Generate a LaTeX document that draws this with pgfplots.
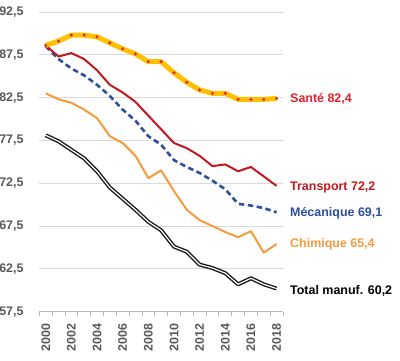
\documentclass[border=0pt]{standalone}
\usepackage{fontspec}
\setmainfont{Liberation Sans}
\usepackage{pgfplots}
\usepackage{pgfplotstable}
\pgfplotsset{compat=1.18}
\definecolor{sanY}{HTML}{FFC000}
\definecolor{sanR}{HTML}{E5202A}
\definecolor{traR}{HTML}{C0181E}
\definecolor{mecB}{HTML}{2D4FA1}
\definecolor{chiO}{HTML}{F79A3B}
\definecolor{tickG}{HTML}{595959}
\definecolor{gridG}{HTML}{D9D9D9}
\pgfplotstableread{
year sante transport meca chimie total
2000 88.6 88.6 88.5 83.0 78.1
2001 89.1 87.3 87.0 82.3 77.4
2002 89.8 87.7 85.9 81.9 76.4
2003 89.8 87.0 85.1 81.1 75.4
2004 89.6 85.7 84.0 80.1 73.9
2005 88.9 84.0 82.7 78.0 72.0
2006 88.2 83.1 81.1 77.2 70.7
2007 87.6 82.0 79.8 75.7 69.4
2008 86.7 80.4 78.0 73.1 68.0
2009 86.7 78.8 77.0 74.0 67.0
2010 85.4 77.2 75.2 71.6 65.1
2011 84.3 76.6 74.4 69.4 64.5
2012 83.4 75.7 73.7 68.2 63.0
2013 83.0 74.5 72.8 67.5 62.6
2014 83.0 74.7 71.8 66.8 62.0
2015 82.3 73.9 70.1 66.2 60.7
2016 82.3 74.4 69.9 66.9 61.4
2017 82.3 73.3 69.6 64.4 60.7
2018 82.4 72.2 69.1 65.4 60.2
}\data
\begin{document}
\begin{tikzpicture}
\begin{axis}[
  name=ax,
  scale only axis,
  width=243.7bp, height=299.7bp,
  xmin=1999.5, xmax=2018.5,
  ymin=57.5, ymax=92.5,
  clip=false,
  axis x line*=bottom,
  axis y line*=left,
  x axis line style={draw=gray!55, line width=0.8bp, -},
  y axis line style={draw=none, -},
  /pgf/number format/assume math mode=true,
  xtick={2000,2002,...,2018},
  xticklabel style={rotate=90, anchor=east, font=\fontsize{12.5}{12.5}\selectfont\bfseries, color=tickG, /pgf/number format/1000 sep={}},
  major x tick style={draw=none},
  minor xtick={1999.5,2000.5,...,2018.5},
  minor x tick style={draw=gray!55, line width=0.8bp},
  minor tick length=4bp,
  tick align=outside,
  ytick={57.5,62.5,...,92.5},
  yticklabel style={font=\fontsize{12.5}{12.5}\selectfont\bfseries, color=tickG, /pgf/number format/.cd, fixed, fixed zerofill, precision=1, use comma},
  ymajorgrids,
  grid style={draw=gridG, line width=0.8bp},
  major y tick style={draw=none},
  xticklabel shift=4bp,
  yticklabel shift=8bp,
]
\addplot[black!90, line width=4bp, line join=round] table[x=year,y=total]{\data};
\addplot[white, line width=1.2bp, line join=round] table[x=year,y=total]{\data};
\addplot[chiO, line width=2bp, line join=round] table[x=year,y=chimie]{\data};
\addplot[mecB, line width=2.6bp, dash pattern=on 5.5bp off 3.5bp] table[x=year,y=meca]{\data};
\addplot[traR, line width=2bp, line join=round] table[x=year,y=transport]{\data};
\addplot[sanY, line width=5bp, line join=round] table[x=year,y=sante]{\data};
\addplot[only marks, mark=*, mark size=1.5bp, mark options={fill=sanR, draw=sanR, line width=0.1bp}] table[x=year,y=sante]{\data};
\node[anchor=west, inner sep=0pt, xshift=7bp, text=sanR, font=\fontsize{12.5}{12.5}\selectfont\bfseries] at (axis cs:2018.5,82.4) {Santé 82,4};
\node[anchor=west, inner sep=0pt, xshift=7bp, text=traR, font=\fontsize{12.5}{12.5}\selectfont\bfseries] at (axis cs:2018.5,72.0) {Transport 72,2};
\node[anchor=west, inner sep=0pt, xshift=7bp, text=mecB, font=\fontsize{12.5}{12.5}\selectfont\bfseries] at (axis cs:2018.5,69.05) {Mécanique 69,1};
\node[anchor=west, inner sep=0pt, xshift=7bp, text=chiO, font=\fontsize{12.5}{12.5}\selectfont\bfseries] at (axis cs:2018.5,65.4) {Chimique 65,4};
\node[anchor=west, inner sep=0pt, xshift=7bp, text=black, font=\fontsize{12.5}{12.5}\selectfont\bfseries] at (axis cs:2018.5,59.9) {Total manuf. 60,2};
\end{axis}
\pgfresetboundingbox
\path (ax.south west) ++(-39.3bp,-49.3bp) rectangle ++(400bp,361bp);
\end{tikzpicture}
\end{document}
